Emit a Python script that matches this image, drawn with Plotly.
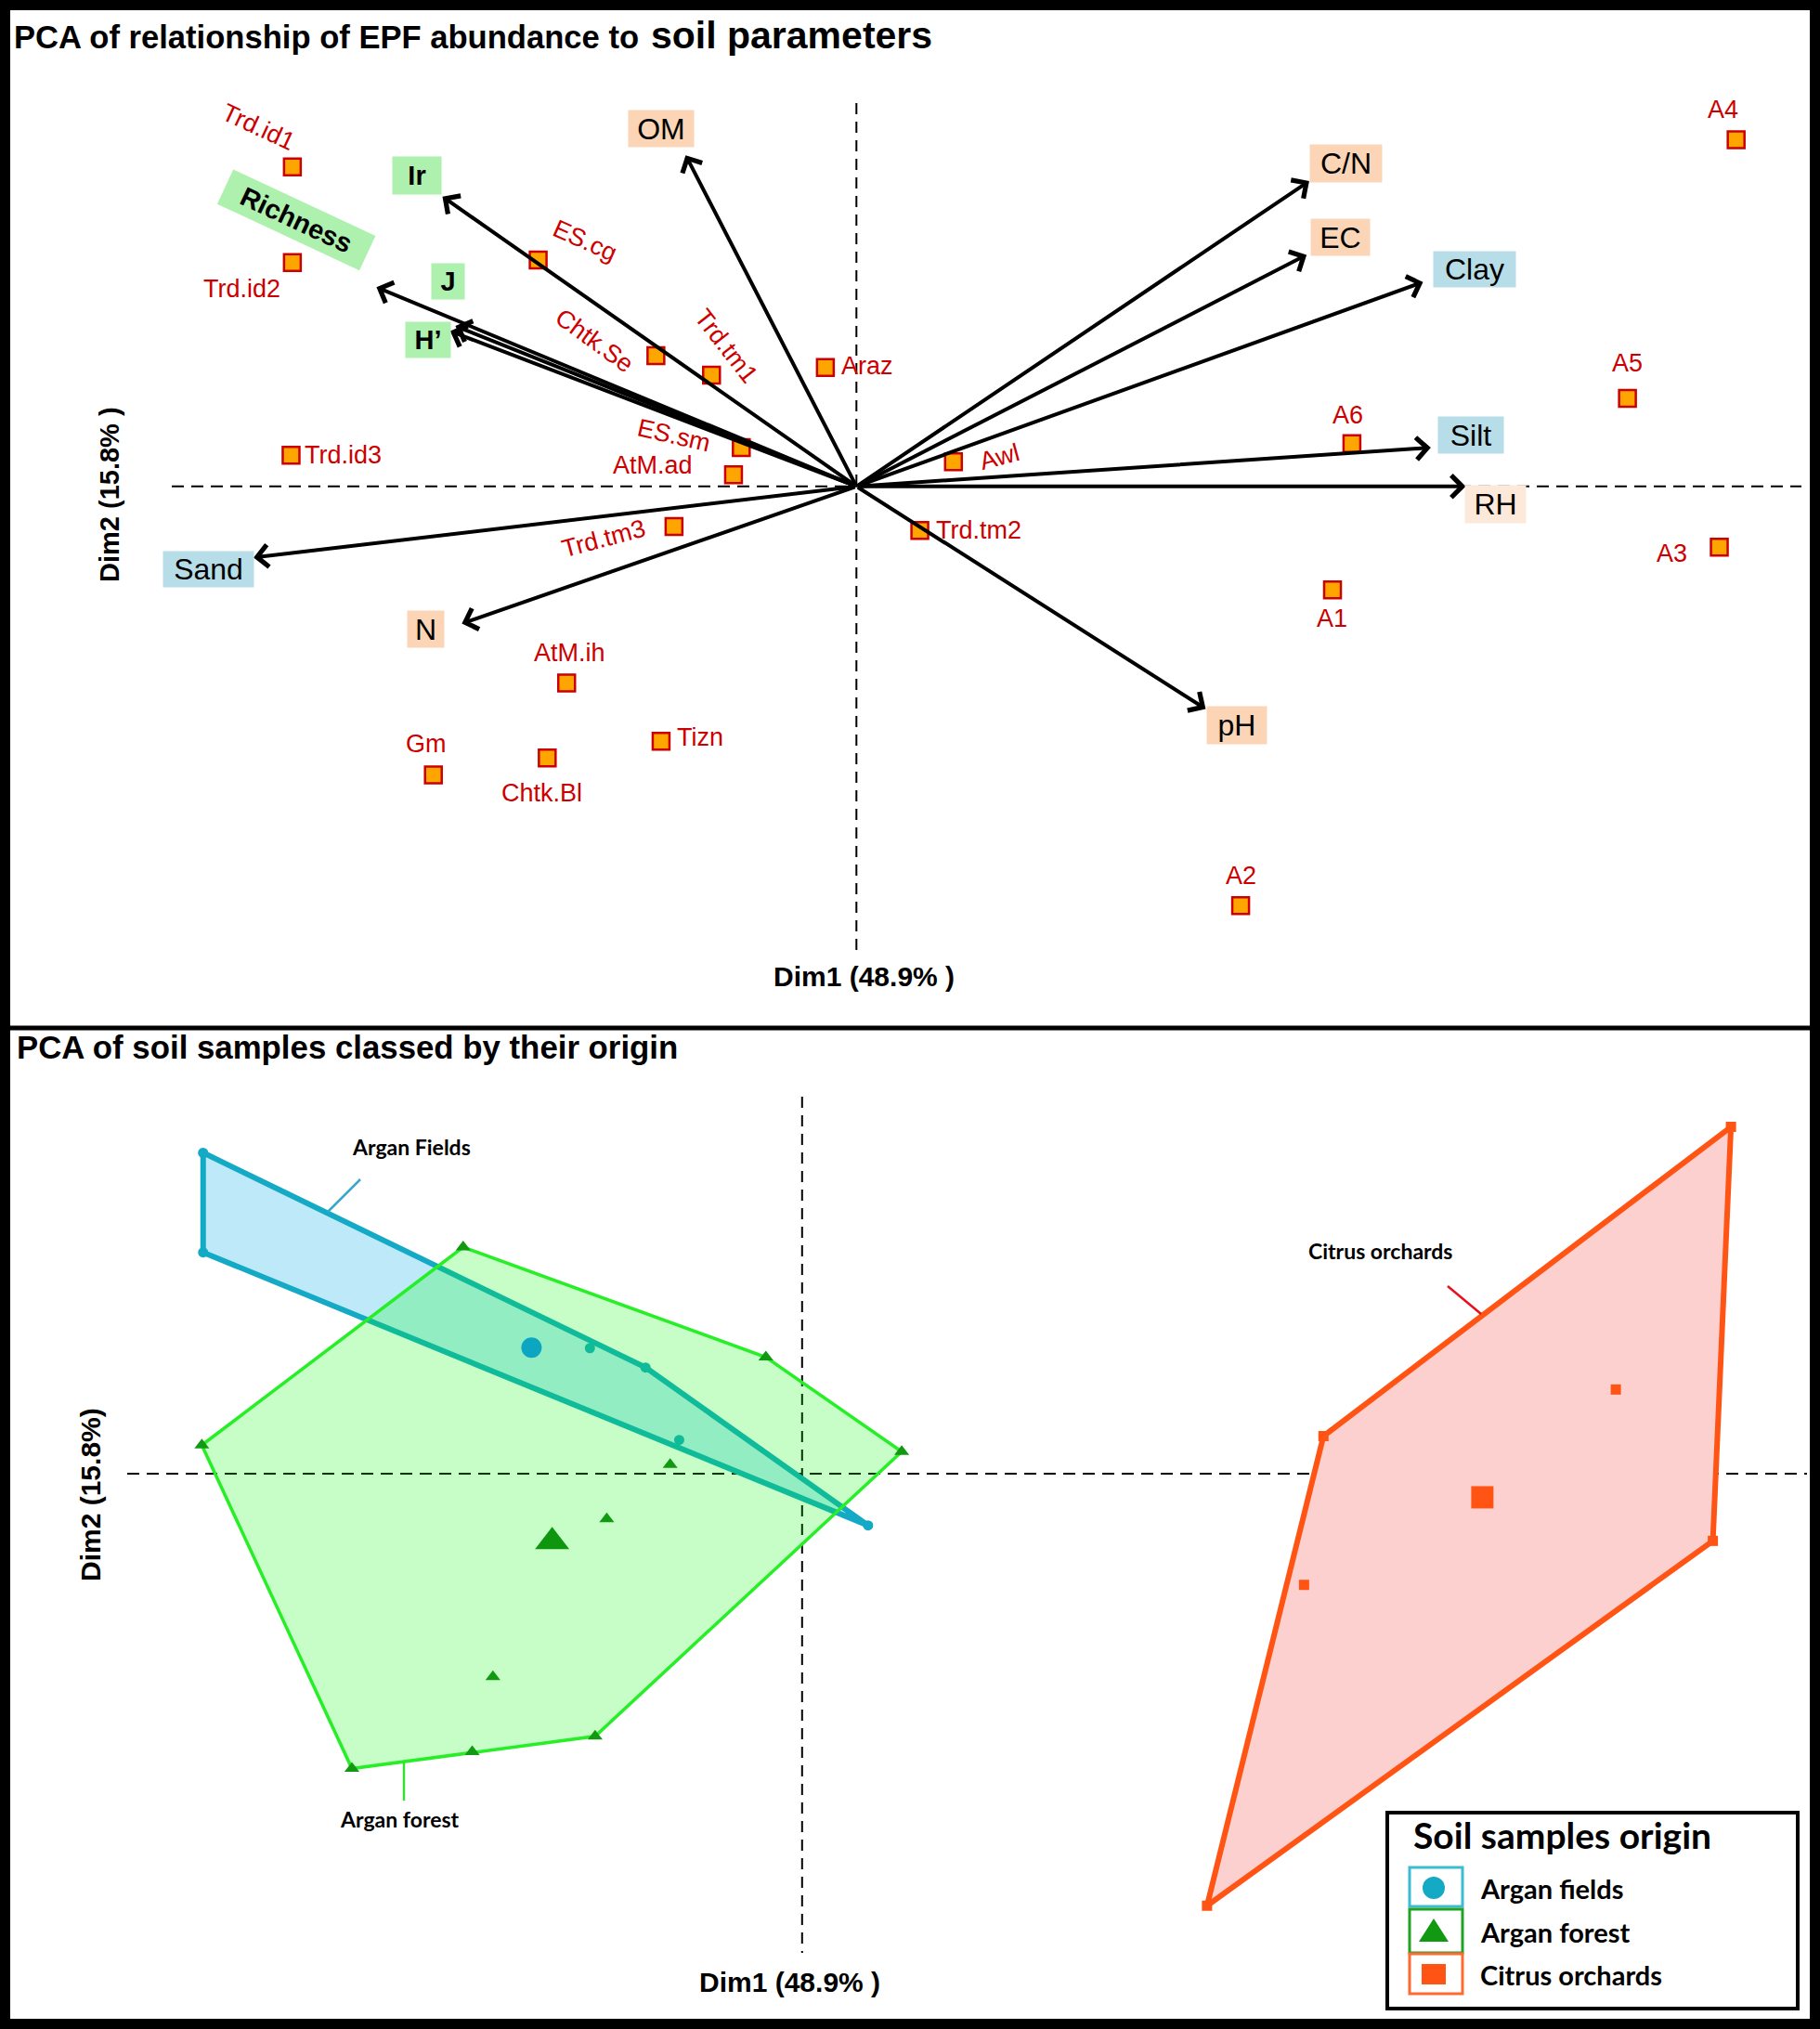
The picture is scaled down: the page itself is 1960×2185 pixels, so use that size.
import plotly.graph_objects as go

# ================= DATA =================
# Top panel: variables (arrow tips on Dim1 / Dim2)
var_names = ["OM", "Ir", "Richness", "J", "H’", "C/N", "EC", "Clay", "Silt", "RH", "pH", "N", "Sand"]
var_dim1 = [-1.32, -3.20, -3.71, -3.10, -3.14, 3.50, 3.48, 4.38, 4.44, 4.71, 2.70, -3.05, -4.66]
var_dim2 = [2.56, 2.24, 1.54, 1.24, 1.20, 2.36, 1.79, 1.58, 0.30, 0.00, -1.72, -1.06, -0.55]
var_type = ["chem", "div", "div", "div", "div", "chem", "chem", "tex", "tex", "hum", "chem", "chem", "tex"]

# Top panel: sampling sites
site_names = ["Trd.id1", "Trd.id2", "Trd.id3", "ES.cg", "Chtk.Se", "Trd.tm1", "Araz", "ES.sm", "AtM.ad",
              "Trd.tm3", "Awl", "Trd.tm2", "A6", "A5", "A4", "A3", "A1", "A2", "AtM.ih", "Tizn",
              "Chtk.Bl", "Gm"]
site_dim1 = [-4.36, -4.36, -4.37, -2.46, -1.55, -1.12, -0.24, -0.89, -0.95,
             -1.41, 0.75, 0.49, 3.83, 5.96, 6.80, 6.67, 3.68, 2.97, -2.24, -1.51,
             -2.39, -3.27]
site_dim2 = [2.47, 1.73, 0.24, 1.75, 1.01, 0.86, 0.92, 0.30, 0.09,
             -0.31, 0.19, -0.34, 0.33, 0.68, 2.68, -0.47, -0.80, -3.24, -1.52, -1.97,
             -2.10, -2.23]

# Bottom panel: soil samples by origin
origin_names = ["Argan fields", "Argan forest", "Citrus orchards"]
fields_dim1 = [-4.63, -4.63, 0.51, -1.21, -1.64, -0.95]
fields_dim2 = [2.48, 1.71, -0.40, 0.82, 0.97, 0.26]
forest_dim1 = [-2.62, -0.28, 0.77, -1.60, -2.55, -3.48, -4.64, -1.02, -1.51, -2.39]
forest_dim2 = [1.75, 0.90, 0.17, -2.03, -2.15, -2.28, 0.22, 0.07, -0.35, -1.57]
citrus_dim1 = [7.18, 4.03, 3.13, 7.04, 6.29, 3.88]
citrus_dim2 = [2.68, 0.29, -3.34, -0.52, 0.65, -0.86]

dim1_label = "Dim1 (48.9% )"
dim2_label = "Dim2 (15.8% )"

# ================= LAYOUT / STYLE =================
W, H = 1960, 2185
K = 139.32                       # pixels per unit
X0T, Y0T = 922.3, 523.8          # top panel origin (px)
X0B, Y0B = 863.8, 1586.9         # bottom panel origin (px)
SPLIT = 1107                     # px row of panel divider

ARIAL = "Liberation Sans, Arial, sans-serif"
CAL = "Lato, Open Sans, sans-serif"


def tx(px): return (px - X0T) / K
def ty(py): return (Y0T - py) / K
def bx(px): return (px - X0B) / K
def by(py): return (Y0B - py) / K
def PX(px): return px / W
def PY(py): return 1 - py / H


BOX_COLORS = {"chem": "#fbd5b5", "div": "#aef0ae", "tex": "#b7dee8", "hum": "#fde9d9"}
# name: (xshift, yshift, box width, box height, angle)
VAR_LABEL = {
    "OM": (-26, 29, 70, 39, 0), "Ir": (-27, 23, 52, 40, 0), "Richness": (-86, 72, 168, 40, 25),
    "J": (-8, 48, 35, 38, 0), "H’": (-24, -9, 48, 38, 0), "C/N": (40, 19, 77, 40, 0),
    "EC": (36, 19, 63, 39, 0), "Clay": (55, 14, 88, 38, 0), "Silt": (43, 14, 70, 39, 0),
    "RH": (32, -19, 65, 40, 0), "pH": (34, -18, 64, 40, 0), "N": (-39, -6, 39, 39, 0),
    "Sand": (-49, -13, 97, 38, 0),
}
# name: (xanchor, xshift, yshift, angle)
SITE_LABEL = {
    "Trd.id1": ("center", -36, 43, 25), "Trd.id2": ("center", -54, -28, 0),
    "Trd.id3": ("left", 13, 0, 0), "ES.cg": ("center", 50, 21, 24),
    "Chtk.Se": ("center", -66, 16, 36), "Trd.tm1": ("center", 16, 31, 52),
    "Araz": ("left", 15, 2, 0), "ES.sm": ("center", -72, 13, 13),
    "AtM.ad": ("center", -87, 10, 0), "Trd.tm3": ("center", -76, -13, -15),
    "Awl": ("center", 50, 5, -15), "Trd.tm2": ("left", 15, 0, 0),
    "A6": ("center", -4, 31, 0), "A5": ("center", 0, 38, 0), "A4": ("center", -14, 32, 0),
    "A3": ("center", -51, -7, 0), "A1": ("center", -1, -31, 0), "A2": ("center", 0, 32, 0),
    "AtM.ih": ("center", 3, 33, 0), "Tizn": ("left", 15, 4, 0),
    "Chtk.Bl": ("center", -6, -38, 0), "Gm": ("center", -8, 33, 0),
}

fig = go.Figure()
annotations = []
shapes = []

# ---------- top panel: site markers ----------
fig.add_trace(go.Scatter(
    x=site_dim1, y=site_dim2, mode="markers", xaxis="x", yaxis="y",
    marker=dict(symbol="square", size=18, color="#ffa500", line=dict(color="#cc0000", width=2.5)),
    showlegend=False, hoverinfo="skip", cliponaxis=False))

for name, x, y in zip(site_names, site_dim1, site_dim2):
    anc, xs, ys, ang = SITE_LABEL[name]
    annotations.append(dict(
        x=x, y=y, xref="x", yref="y", text=name, showarrow=False,
        xanchor=anc, yanchor="middle", xshift=xs, yshift=ys, textangle=ang,
        font=dict(family=ARIAL, size=27, color="#cc0000")))

# ---------- top panel: variable arrows ----------
for name, x, y, t in zip(var_names, var_dim1, var_dim2, var_type):
    annotations.append(dict(
        x=x, y=y, ax=0, ay=0, xref="x", yref="y", axref="x", ayref="y", text="",
        showarrow=True, arrowhead=4, arrowsize=1.15, arrowwidth=4, arrowcolor="black",
        standoff=0, startstandoff=0))
    xs, ys, w, h, ang = VAR_LABEL[name]
    txt = "<b>" + name + "</b>" if t == "div" else name
    annotations.append(dict(
        x=x, y=y, xref="x", yref="y", text=txt, showarrow=False,
        xanchor="center", yanchor="middle", xshift=xs, yshift=ys, width=w, height=h,
        textangle=ang, bgcolor=BOX_COLORS[t], borderpad=0,
        font=dict(family=ARIAL, size=29 if t == "div" else 32, color="black")))

# dashed axes, top
shapes.append(dict(type="line", xref="x", yref="y", x0=0, x1=0, y0=ty(111), y1=ty(1031),
                   line=dict(color="black", width=2, dash="12px,8px"), layer="below"))
shapes.append(dict(type="line", xref="x", yref="y", x0=tx(185), x1=tx(1940), y0=0, y1=0,
                   line=dict(color="black", width=2, dash="13px,8px"), layer="below"))


# ---------- bottom panel ----------
def hull(xs, ys):
    pts = sorted(set(zip(xs, ys)))

    def cross(o, a, b):
        return (a[0] - o[0]) * (b[1] - o[1]) - (a[1] - o[1]) * (b[0] - o[0])
    lower, upper = [], []
    for p in pts:
        while len(lower) >= 2 and cross(lower[-2], lower[-1], p) <= 0:
            lower.pop()
        lower.append(p)
    for p in reversed(pts):
        while len(upper) >= 2 and cross(upper[-2], upper[-1], p) <= 0:
            upper.pop()
        upper.append(p)
    h = lower[:-1] + upper[:-1]
    h.append(h[0])
    return [p[0] for p in h], [p[1] for p in h]


def mean(v): return sum(v) / len(v)


hx, hy = hull(fields_dim1, fields_dim2)
fig.add_trace(go.Scatter(x=hx, y=hy, mode="lines", fill="toself", fillcolor="#bde9f9",
                         line=dict(color="#14a9c4", width=6), xaxis="x2", yaxis="y2",
                         showlegend=False, hoverinfo="skip"))
fig.add_trace(go.Scatter(x=fields_dim1, y=fields_dim2, mode="markers", xaxis="x2", yaxis="y2",
                         marker=dict(symbol="circle", size=11, color="#14a9c4"),
                         showlegend=False, hoverinfo="skip"))

hx, hy = hull(forest_dim1, forest_dim2)
fig.add_trace(go.Scatter(x=hx, y=hy, mode="lines", fill="toself", fillcolor="rgba(0,250,0,0.22)",
                         line=dict(color="#27ee27", width=3.5), xaxis="x2", yaxis="y2",
                         showlegend=False, hoverinfo="skip"))
fig.add_trace(go.Scatter(x=forest_dim1, y=forest_dim2, mode="markers", xaxis="x2", yaxis="y2",
                         marker=dict(symbol="triangle-up", size=14, color="#119a11"),
                         showlegend=False, hoverinfo="skip"))

hx, hy = hull(citrus_dim1, citrus_dim2)
fig.add_trace(go.Scatter(x=hx, y=hy, mode="lines", fill="toself", fillcolor="#fdd0d0",
                         line=dict(color="#ff5413", width=6), xaxis="x2", yaxis="y2",
                         showlegend=False, hoverinfo="skip"))
fig.add_trace(go.Scatter(x=citrus_dim1, y=citrus_dim2, mode="markers", xaxis="x2", yaxis="y2",
                         marker=dict(symbol="square", size=11, color="#ff5413"),
                         showlegend=False, hoverinfo="skip"))

# group centroids
fig.add_trace(go.Scatter(x=[mean(fields_dim1)], y=[mean(fields_dim2)], mode="markers",
                         xaxis="x2", yaxis="y2", marker=dict(symbol="circle", size=22, color="#0ca6c2"),
                         showlegend=False, hoverinfo="skip"))
fig.add_trace(go.Scatter(x=[mean(forest_dim1)], y=[mean(forest_dim2)], mode="markers",
                         xaxis="x2", yaxis="y2", marker=dict(symbol="triangle-up", size=32, color="#0f960f"),
                         showlegend=False, hoverinfo="skip"))
fig.add_trace(go.Scatter(x=[mean(citrus_dim1)], y=[mean(citrus_dim2)], mode="markers",
                         xaxis="x2", yaxis="y2", marker=dict(symbol="square", size=24, color="#ff5413"),
                         showlegend=False, hoverinfo="skip"))

# dashed axes, bottom
shapes.append(dict(type="line", xref="x2", yref="y2", x0=0, x1=0, y0=by(1181), y1=by(2103),
                   line=dict(color="black", width=2, dash="12px,8px"), layer="below"))
shapes.append(dict(type="line", xref="x2", yref="y2", x0=bx(137), x1=bx(1946), y0=0, y1=0,
                   line=dict(color="black", width=2, dash="13px,8px"), layer="below"))

# group annotation leaders + texts
LEADERS = [
    ("Argan Fields", (388, 1270, 353, 1305), (443, 1235), "#3aa6cc"),
    ("Argan forest", (435, 1897, 435, 1939), (430, 1959), "#33e033"),
    ("Citrus orchards", (1559, 1385, 1595, 1415), (1486, 1347), "#e8101f"),
]
for txt, (x0, y0, x1, y1), (lx, ly), col in LEADERS:
    shapes.append(dict(type="line", xref="x2", yref="y2", x0=bx(x0), y0=by(y0), x1=bx(x1), y1=by(y1),
                       line=dict(color=col, width=2.5)))
    annotations.append(dict(x=bx(lx), y=by(ly), xref="x2", yref="y2", text="<b>" + txt + "</b>",
                            showarrow=False, xanchor="center", yanchor="middle",
                            font=dict(family=CAL, size=23, color="black")))

# ---------- titles & axis titles ----------
annotations += [
    dict(x=PX(13), y=PY(40), xref="paper", yref="paper", xanchor="left", yanchor="middle",
         text="<b>PCA of relationship of EPF abundance to</b>", showarrow=False,
         font=dict(family=ARIAL, size=34.6, color="black")),
    dict(x=PX(699), y=PY(38), xref="paper", yref="paper", xanchor="left", yanchor="middle",
         text="<b>soil parameters</b>", showarrow=False,
         font=dict(family=ARIAL, size=41, color="black")),
    dict(x=PX(930), y=PY(1051), xref="paper", yref="paper", xanchor="center", yanchor="middle",
         text="<b>" + dim1_label + "</b>", showarrow=False, font=dict(family=ARIAL, size=30, color="black")),
    dict(x=PX(118), y=PY(533), xref="paper", yref="paper", xanchor="center", yanchor="middle",
         text="<b>" + dim2_label + "</b>", textangle=-90, showarrow=False,
         font=dict(family=ARIAL, size=29, color="black")),
    dict(x=PX(16), y=PY(1127), xref="paper", yref="paper", xanchor="left", yanchor="middle",
         text="<b>PCA of soil samples classed by their origin</b>", showarrow=False,
         font=dict(family=ARIAL, size=34.8, color="black")),
    dict(x=PX(850), y=PY(2134), xref="paper", yref="paper", xanchor="center", yanchor="middle",
         text="<b>" + dim1_label + "</b>", showarrow=False, font=dict(family=ARIAL, size=30, color="black")),
    dict(x=PX(97), y=PY(1610), xref="paper", yref="paper", xanchor="center", yanchor="middle",
         text="<b>Dim2 (15.8%)</b>", textangle=-90, showarrow=False,
         font=dict(family=ARIAL, size=30, color="black")),
]

# ---------- manual legend ----------
shapes.append(dict(type="rect", xref="paper", yref="paper", x0=PX(1494), x1=PX(1936),
                   y0=PY(1952), y1=PY(2163), line=dict(color="black", width=4), fillcolor="white"))
annotations.append(dict(x=PX(1520), y=PY(1976), xref="paper", yref="paper", xanchor="left",
                        yanchor="middle", text="<b>Soil samples origin</b>", showarrow=False,
                        font=dict(family=CAL, size=39, color="black")))
LEG = [("#3bbcd2", 2011, 2053), ("#22a222", 2056, 2103), ("#ff6a32", 2104, 2147)]
for (col, yt, yb), lab in zip(LEG, origin_names):
    shapes.append(dict(type="rect", xref="paper", yref="paper", x0=PX(1518), x1=PX(1575),
                       y0=PY(yt), y1=PY(yb), line=dict(color=col, width=3), fillcolor="white"))
    annotations.append(dict(x=PX(1592), y=PY((yt + yb) / 2 + 1), xref="paper", yref="paper",
                            xanchor="left", yanchor="middle", text="<b>" + lab + "</b>",
                            showarrow=False, font=dict(family=CAL, size=29, color="black")))
shapes.append(dict(type="circle", xref="paper", yref="paper", x0=PX(1532), x1=PX(1556),
                   y0=PY(2021), y1=PY(2045), line=dict(width=0), fillcolor="#14a9c4"))
shapes.append(dict(type="path", xref="paper", yref="paper",
                   path="M %f %f L %f %f L %f %f Z" % (PX(1528), PY(2091), PX(1560), PY(2091),
                                                       PX(1544), PY(2066)),
                   line=dict(width=0), fillcolor="#119a11"))
shapes.append(dict(type="rect", xref="paper", yref="paper", x0=PX(1531), x1=PX(1557),
                   y0=PY(2115), y1=PY(2137), line=dict(width=0), fillcolor="#ff5413"))

# ---------- frame ----------
shapes.append(dict(type="rect", xref="paper", yref="paper", x0=0, x1=1, y0=0, y1=1,
                   line=dict(color="black", width=22)))
shapes.append(dict(type="line", xref="paper", yref="paper", x0=0, x1=1, y0=PY(SPLIT), y1=PY(SPLIT),
                   line=dict(color="black", width=5)))

axis_common = dict(visible=False, showgrid=False, zeroline=False, fixedrange=True)
fig.update_layout(
    width=W, height=H, margin=dict(l=0, r=0, t=0, b=0),
    paper_bgcolor="white", plot_bgcolor="rgba(0,0,0,0)", showlegend=False,
    xaxis=dict(domain=[0, 1], range=[tx(0), tx(W)], anchor="y", **axis_common),
    yaxis=dict(domain=[1 - SPLIT / H, 1], range=[ty(SPLIT), ty(0)], anchor="x", **axis_common),
    xaxis2=dict(domain=[0, 1], range=[bx(0), bx(W)], anchor="y2", **axis_common),
    yaxis2=dict(domain=[0, 1 - SPLIT / H], range=[by(H), by(SPLIT)], anchor="x2", **axis_common),
    annotations=annotations, shapes=shapes,
)

fig.write_html("out.html", config={"displayModeBar": False},
               post_script="document.body.style.margin='0';document.body.style.overflow='hidden';")
